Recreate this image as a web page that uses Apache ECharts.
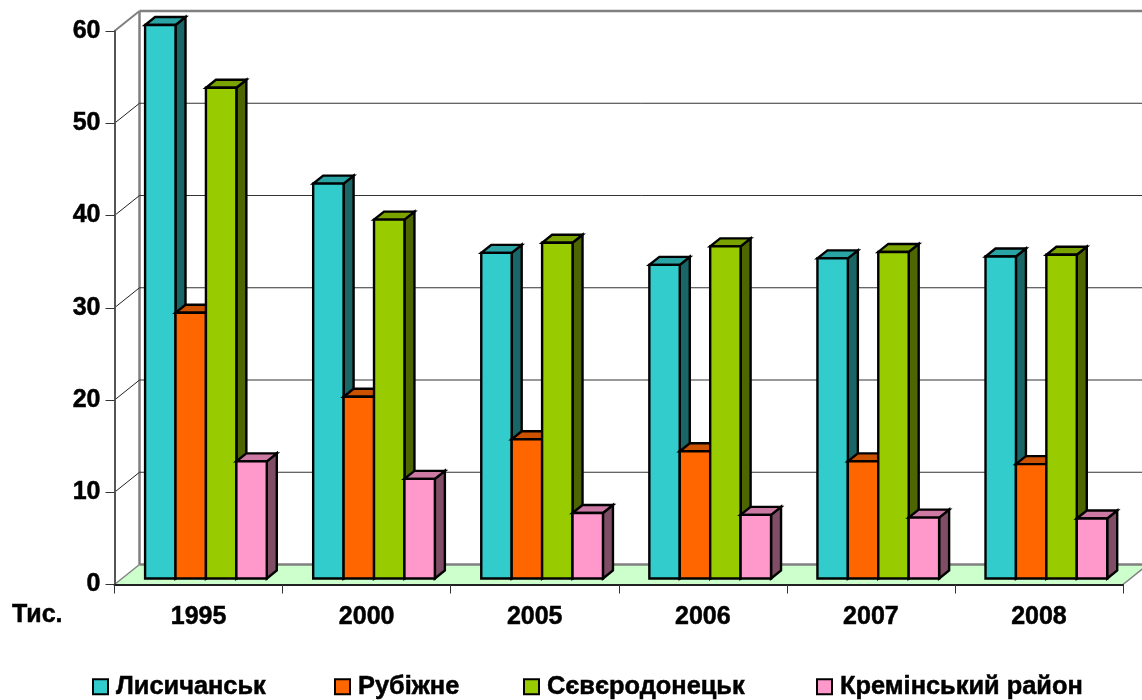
<!DOCTYPE html>
<html><head><meta charset="utf-8">
<style>html,body{margin:0;padding:0;background:#fff}#c{width:1142px;height:700px}</style>
<script src="https://cdn.jsdelivr.net/npm/echarts@6/dist/echarts.min.js"></script>
</head><body><div id="c"></div>
<script>
const categories = ['1995','2000','2005','2006','2007','2008'];
const tickValues = [0,10,20,30,40,50,60];
const lysychansk = [60,42.8,35.3,34,34.7,34.9];
const rubizhne = [28.8,19.7,15.1,13.8,12.7,12.4];
const sievierodonetsk = [53.2,38.9,36.4,36,35.4,35.1];
const kreminskyi = [12.7,10.8,7.1,6.9,6.6,6.5];
const names = ['Лисичанськ','Рубіжне','Сєвєродонецьк','Кремінський район'];
const FONT = '"Liberation Sans", Arial, sans-serif';
const WALL = [25,-20], FRONT = [7.4,-6], DEPTH = [10,-8], BAR_RATIO = 0.181;
const styles = [
  {front:'#33CCCC',top:'#29A3A3',side:'#1A6666'},
  {front:'#FF6600',top:'#CC5200',side:'#803300'},
  {front:'#99CC00',top:'#7AA300',side:'#4D6600'},
  {front:'#FF99CC',top:'#CC7AA3',side:'#804D66'}
];
const legendLeft = [92,334,523,816];
const boldText = {fontFamily:FONT,fontWeight:'bold',color:'#000',textBorderColor:'#000',textBorderWidth:0.5};

function poly(points, fill){
  return {type:'polygon',shape:{points},style:{fill,stroke:'#000',lineWidth:2.4,lineJoin:'miter'}};
}
function line(a,b,stroke,lineWidth){
  return {type:'line',shape:{x1:a[0],y1:a[1],x2:b[0],y2:b[1]},style:{stroke,lineWidth}};
}
function barSeries(name, values, idx){
  const s = styles[idx];
  return {
    name, type:'custom', z:5+idx, clip:false,
    itemStyle:{color:s.front,borderColor:'#000',borderWidth:2.4},
    encode:{x:0,y:1},
    data: values.map((v,i)=>[i,v]),
    renderItem(params, api){
      const c = api.value(0), v = api.value(1);
      const b = api.coord([c,0]), t = api.coord([c,v]);
      const w = api.size([1,0])[0]*BAR_RATIO;
      const x0 = b[0]+FRONT[0]-2*w+idx*w, x1 = x0+w;
      const yb = b[1]+FRONT[1], yt = t[1]+FRONT[1];
      const [dx,dy] = DEPTH;
      return {type:'group',children:[
        poly([[x1,yb],[x1+dx,yb+dy],[x1+dx,yt+dy],[x1,yt]], s.side),
        poly([[x0,yt],[x1,yt],[x1+dx,yt+dy],[x0+dx,yt+dy]], s.top),
        poly([[x0,yb],[x1,yb],[x1,yt],[x0,yt]], s.front)
      ]};
    }
  };
}
const wallSeries = {
  type:'custom', z:1, clip:false, silent:true, legendHoverLink:false,
  encode:{y:0},
  data: tickValues.map(v=>[v]),
  renderItem(params, api){
    const v = api.value(0);
    const g = params.coordSys;
    const L = g.x, R = g.x+g.width;
    const y = api.coord([0,v])[1];
    const [dx,dy] = WALL;
    const children = [];
    if(v===0){
      children.push({type:'polygon',shape:{points:[[L,y],[R,y],[R+dx,y+dy],[L+dx,y+dy]]},style:{fill:'#CCFFCC',stroke:null}});
      children.push(line([L+dx,y+dy],[R+dx,y+dy],'#808080',2.5));
      children.push(line([L,y],[L+dx,y+dy],'#808080',1.5));
      children.push(line([R,y],[R+dx,y+dy],'#808080',1.5));
      children.push(line([L+dx,y+dy],[L+dx,g.y+dy],'#808080',2.5));
    } else if(v===60){
      children.push(line([L+dx,y+dy],[R+dx,y+dy],'#808080',2.5));
      children.push(line([L,y],[L+dx,y+dy],'#808080',2));
    } else {
      children.push(line([L+dx,y+dy],[R+dx,y+dy],'#333',1));
      children.push(line([L,y],[L+dx,y+dy],'#222',1));
    }
    return {type:'group',children};
  }
};
const chart = echarts.init(document.getElementById('c'),null,{renderer:'canvas'});
chart.setOption({
  animation:false,
  backgroundColor:'#fff',
  title:{text:'Тис.',left:7,top:598,textStyle:{...boldText,fontSize:25}},
  grid:{left:114.5,right:19,top:31,bottom:115.5,containLabel:false},
  xAxis:{type:'category',data:categories,z:20,
    axisLine:{lineStyle:{color:'#222',width:2}},
    axisTick:{show:true,length:9,alignWithLabel:false,lineStyle:{color:'#333',width:1}},
    axisLabel:{...boldText,margin:20,fontSize:25},
    splitLine:{show:false}},
  yAxis:{type:'value',min:0,max:60,interval:10,z:20,
    axisLine:{show:true,lineStyle:{color:'#555',width:2}},
    axisTick:{show:true,length:9,lineStyle:{color:'#333',width:1}},
    axisLabel:{...boldText,margin:14,fontSize:25,padding:[4,0,0,0]},
    splitLine:{show:false}},
  legend:names.map((n,i)=>({
    data:[{name:n,icon:'rect'}],left:legendLeft[i],top:674,itemWidth:15,itemHeight:15,itemGap:12,
    selectedMode:false,
    textStyle:{...boldText,fontSize:25.4,padding:[2,0,0,3]},
    padding:0
  })),
  series:[wallSeries,
    barSeries(names[0],lysychansk,0),
    barSeries(names[1],rubizhne,1),
    barSeries(names[2],sievierodonetsk,2),
    barSeries(names[3],kreminskyi,3)]
});
</script></body></html>
